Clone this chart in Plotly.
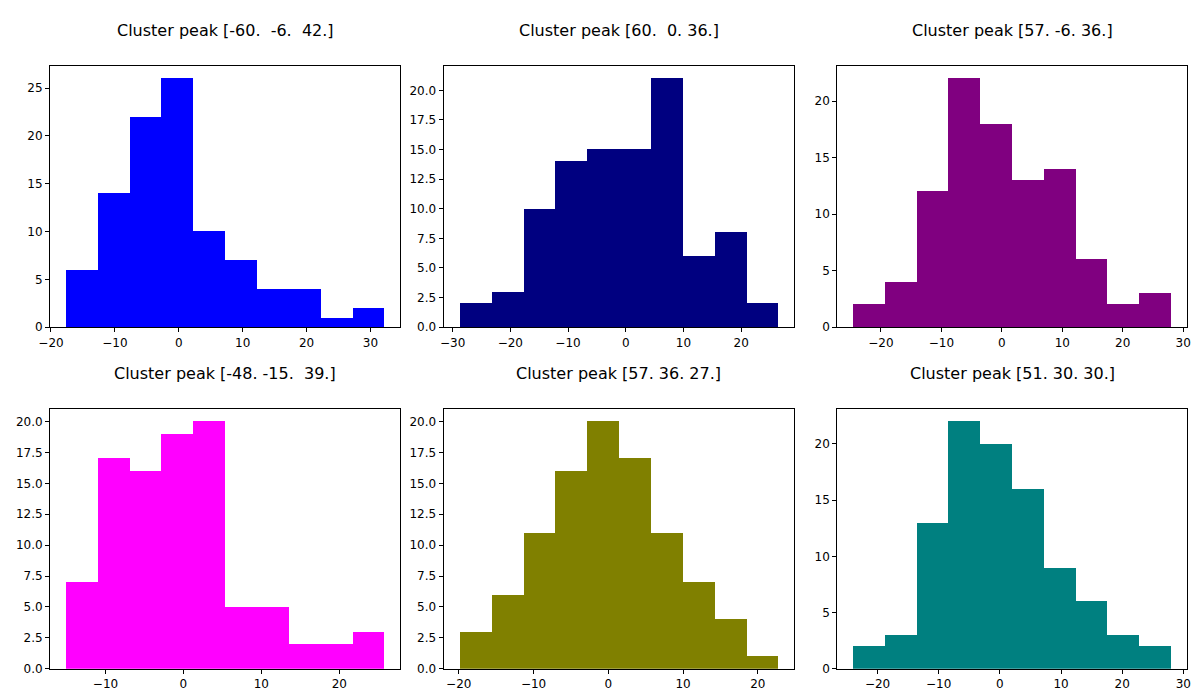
import plotly.graph_objects as go

titles = ["Cluster peak [-60.  -6.  42.]", "Cluster peak [60.  0. 36.]", "Cluster peak [57. -6. 36.]",
          "Cluster peak [-48. -15.  39.]", "Cluster peak [57. 36. 27.]", "Cluster peak [51. 30. 30.]"]
colors = ["#0000ff", "#000080", "#800080", "#ff00ff", "#808000", "#008080"]
bin_start = [-17.66, -28.8, -24.6, -15.08, -19.9, -24.0]
bin_end = [32.2, 26.4, 28.0, 25.8, 22.7, 28.0]
counts = [
    [6, 14, 22, 26, 10, 7, 4, 4, 1, 2],
    [2, 3, 10, 14, 15, 15, 21, 6, 8, 2],
    [2, 4, 12, 22, 18, 13, 14, 6, 2, 3],
    [7, 17, 16, 19, 20, 5, 5, 2, 2, 3],
    [3, 6, 11, 16, 20, 17, 11, 7, 4, 1],
    [2, 3, 13, 22, 20, 16, 9, 6, 3, 2],
]
ytick_step = [5, 2.5, 5, 2.5, 2.5, 5]

xdom = [(0.035, 0.327), (0.363, 0.655), (0.691, 0.9825)]
ydom = [(0.544, 0.917), (0.056, 0.427)]

fig = go.Figure()
layout = dict(width=1200, height=700, margin=dict(l=0, r=0, t=0, b=0, autoexpand=False),
              plot_bgcolor="white", paper_bgcolor="white", showlegend=False, bargap=0,
              font=dict(family="DejaVu Sans", size=12, color="black"), annotations=[])
for i in range(6):
    r, c = divmod(i, 3)
    n = len(counts[i])
    w = (bin_end[i] - bin_start[i]) / n
    xs = [bin_start[i] + w * (k + 0.5) for k in range(n)]
    sfx = "" if i == 0 else str(i + 1)
    fig.add_trace(go.Bar(x=xs, y=counts[i], width=w, marker=dict(color=colors[i], line=dict(width=0)),
                         xaxis="x" + sfx, yaxis="y" + sfx))
    span = bin_end[i] - bin_start[i]
    ymax = max(counts[i]) * 1.05
    ax = dict(showline=True, linecolor="black", mirror=True, showgrid=False, zeroline=False,
              ticks="outside", ticklen=4, tickcolor="black", automargin=False)
    layout["xaxis" + sfx] = dict(ax, domain=xdom[c], anchor="y" + sfx,
                                 range=[bin_start[i] - 0.05 * span, bin_end[i] + 0.05 * span], dtick=10)
    layout["yaxis" + sfx] = dict(ax, domain=ydom[r], anchor="x" + sfx, range=[0, ymax],
                                 dtick=ytick_step[i], tickformat=".1f" if ytick_step[i] == 2.5 else "d")
    layout["annotations"].append(dict(text=titles[i], xref="paper", yref="paper",
                                      x=(xdom[c][0] + xdom[c][1]) / 2, y=ydom[r][1] + 0.035,
                                      xanchor="center", yanchor="bottom", showarrow=False,
                                      font=dict(size=16)))
fig.update_layout(**layout)
fig.write_html("out.html")
